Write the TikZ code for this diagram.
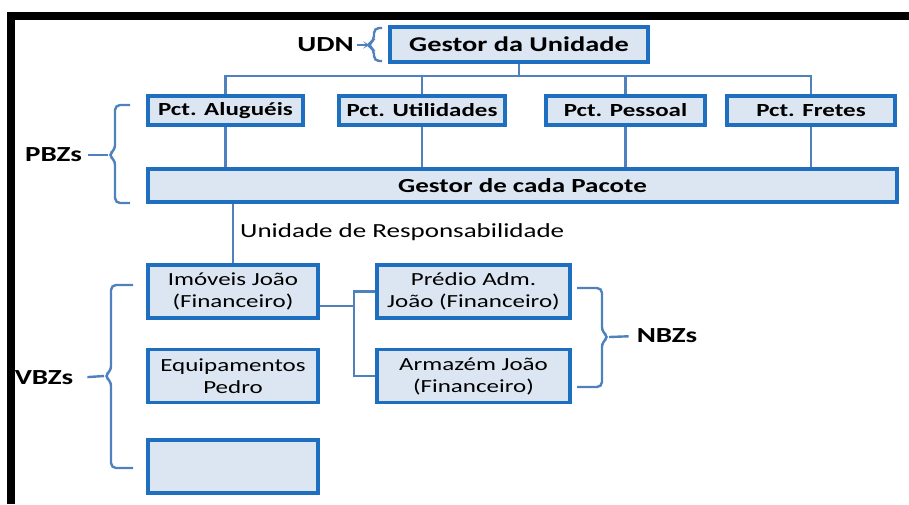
\documentclass[tikz,border=0pt]{standalone}
\usepackage{fontspec}
\setmainfont[FakeStretch=1.35]{Carlito}
\usetikzlibrary{calc}
\definecolor{boxfill}{HTML}{DCE6F2}
\definecolor{boxline}{HTML}{1F6FC0}
\definecolor{linkline}{HTML}{4F81BD}
\tikzset{
  basebox/.style={draw=boxline, fill=boxfill, line width=3.2pt, inner sep=0pt, align=center},
  headbox/.style={basebox, font=\bfseries\fontsize{21}{25}\selectfont, minimum height=35pt},
  pctbox/.style={basebox, font=\bfseries\fontsize{18.5}{22}\selectfont, minimum height=29pt},
  zonebox/.style={basebox, font=\fontsize{18.5}{22}\selectfont, minimum width=170pt, minimum height=53pt},
  zonelabel/.style={font=\bfseries\fontsize{21.5}{25}\selectfont, inner sep=0pt},
  link/.style={draw=linkline, line width=2.4pt},
  bracket/.style={draw=linkline, line width=2.4pt, rounded corners=5pt}
}
\begin{document}
\begin{tikzpicture}[x=1pt, y=-1pt]
  \useasboundingbox (0,0) rectangle (909,504);
  % Unit manager
  \node[headbox, minimum width=258pt] (gestor) at (519,44.5) {Gestor da Unidade};
  \node[zonelabel] (udn) at (325.5,45) {UDN};
  % Packages
  \node[pctbox, minimum width=155pt] (alugueis) at (225.5,110.5) {Pct. Aluguéis};
  \node[pctbox, minimum width=166pt] (utilidades) at (422,110.5) {Pct. Utilidades};
  \node[pctbox, minimum width=159pt] (pessoal) at (625.5,110.5) {Pct. Pessoal};
  \node[pctbox, minimum width=168pt] (fretes) at (811,110.5) {Pct. Fretes};
  \node[headbox, font=\bfseries\fontsize{20}{24}\selectfont, minimum width=749pt, minimum height=33pt] (pacote) at (522.5,185.5) {Gestor de cada Pacote};
  \node[zonelabel] (pbz) at (53.5,155) {PBZs};
  % Decision units
  \node[font=\fontsize{20}{24}\selectfont, anchor=west, inner sep=0pt] (resp) at (240,232) {Unidade de Responsabilidade};
  \node[zonebox] (imoveis) at (233,291.5) {Imóveis João\\(Financeiro)};
  \node[zonebox] (equip) at (233,376) {Equipamentos\\Pedro};
  \node[zonebox] (vazio) at (233,466.5) {};
  \node[zonebox, minimum width=193pt] (predio) at (473.5,291.5) {Prédio Adm.\\João (Financeiro)};
  \node[zonebox, minimum width=193pt] (armazem) at (473.5,376) {Armazém João\\(Financeiro)};
  \node[zonelabel] (vbz) at (44,378) {VBZs};
  \node[zonelabel] (nbz) at (667,336) {NBZs};
  % Connectors
  \coordinate (bus) at (519,76);
  \coordinate (fork) at (354,306);
  \draw[link] (gestor.south) -- (bus);
  \draw[link] (alugueis.north) |- (bus) -| (fretes.north);
  \draw[link] (utilidades.north) -- (utilidades.north |- bus);
  \draw[link] (pessoal.north) -- (pessoal.north |- bus);
  \foreach \p in {alugueis,utilidades,pessoal,fretes}
    \draw[link] (\p.south) -- (\p.south |- pacote.north);
  \draw[link] (imoveis.north |- pacote.south) -- (imoveis.north);
  \draw[link] (imoveis.east |- fork) -- (fork);
  \draw[link] (predio.west) -| (fork) |- (armazem.west);
  % Brackets
  \coordinate (udntip) at (367,45);
  \coordinate (pbztip) at (108,155);
  \coordinate (vbztip) at (104,376);
  \coordinate (nbztip) at (609,337);
  \draw[bracket] (382,28) -- (374,28) -- (374,41) -- (udntip) -- (374,49) -- (374,61) -- (382,61);
  \draw[link, shorten <=3pt] (udn.east) -- (udntip);
  \draw[bracket] (130,105) -- (115,105) -- (115,150) -- (pbztip) -- (115,160) -- (115,203) -- (130,203);
  \draw[link, shorten <=6pt] (pbz.east) -- (pbztip);
  \draw[bracket] (133,285) -- (111,285) -- (111,371) -- (vbztip) -- (111,381) -- (111,468) -- (133,468);
  \draw[link, shorten <=14pt] (vbz.east) -- (vbztip);
  \draw[bracket] (577,288) -- (602,288) -- (602,332) -- (nbztip) -- (602,342) -- (602,387) -- (577,387);
  \draw[link, shorten <=8pt] (nbz.west) -- (nbztip);
  % Frame
  \fill[black] (7,12) rectangle (909,20);
  \fill[black] (7,12) rectangle (15,504);
\end{tikzpicture}
\end{document}
